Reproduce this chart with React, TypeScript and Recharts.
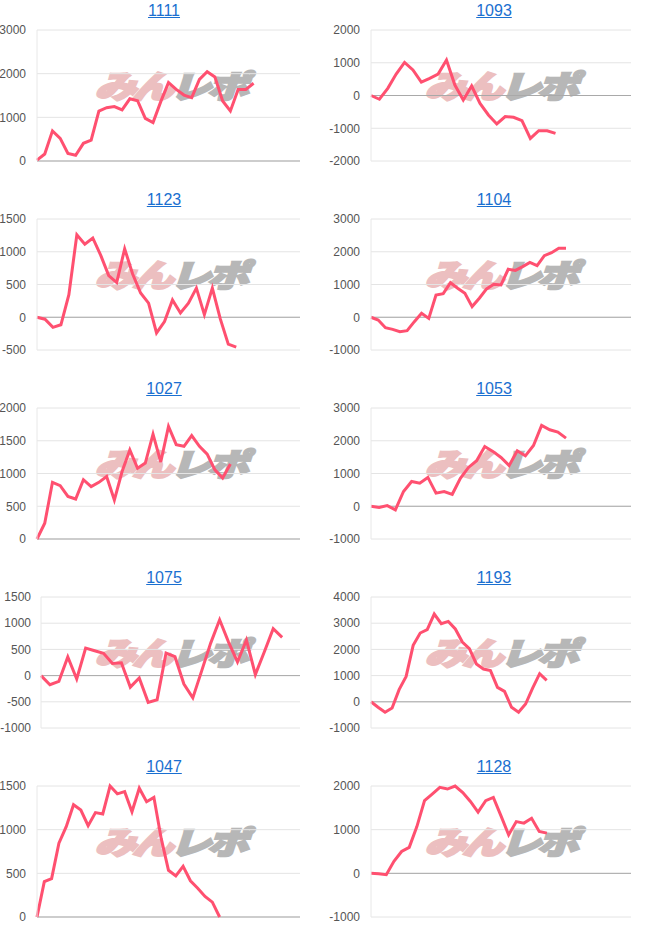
import React from "react";
import { LineChart, Line, XAxis, YAxis, CartesianGrid, ReferenceLine } from "recharts";

const lineColor = "#ff5070";
const gridColor = "#e4e4e4";
const baseColor = "#a9a9a9";
const tickColor = "#555555";
const linkColor = "#1a6fd0";
const font = "Arial, 'Liberation Sans', sans-serif";

// cumulative values per machine
const s1111 = [20, 160, 690, 520, 175, 130, 405, 480, 1145, 1220, 1245, 1170, 1425, 1380, 975, 880, 1360, 1795, 1640, 1510, 1450, 1870, 2045, 1925, 1375, 1145, 1640, 1640, 1780];
const s1093 = [0, -115, 220, 655, 1010, 780, 410, 525, 655, 1085, 320, -135, 290, -240, -595, -870, -645, -665, -770, -1310, -1075, -1075, -1155];
const s1123 = [0, -30, -155, -115, 345, 1260, 1115, 1210, 945, 635, 530, 1045, 660, 370, 215, -240, -65, 265, 65, 215, 445, 40, 445, -25, -410, -455];
const s1104 = [0, -85, -320, -370, -440, -410, -135, 120, -35, 680, 720, 1055, 885, 730, 325, 580, 865, 1005, 985, 1465, 1430, 1545, 1675, 1575, 1880, 1970, 2105, 2105];
const s1027 = [0, 240, 865, 815, 650, 610, 905, 800, 865, 955, 595, 1030, 1360, 1080, 1160, 1600, 1175, 1720, 1440, 1415, 1580, 1415, 1295, 1055, 930, 1145];
const s1053 = [0, -40, 20, -110, 450, 755, 705, 880, 400, 450, 365, 855, 1185, 1390, 1825, 1675, 1490, 1245, 1695, 1540, 1855, 2470, 2335, 2265, 2080];
const s1075 = [0, -175, -110, 355, -65, 525, 475, 425, 230, 245, -220, -45, -510, -460, 430, 360, -160, -425, 95, 620, 1065, 640, 260, 680, 20, 450, 895, 730];
const s1193 = [0, -210, -400, -235, 465, 970, 2155, 2625, 2755, 3350, 2980, 3070, 2780, 2280, 2030, 1445, 1250, 1190, 550, 400, -210, -400, -85, 525, 1075, 820];
const s1047 = [0, 405, 440, 845, 1035, 1285, 1225, 1045, 1195, 1180, 1500, 1410, 1435, 1205, 1475, 1320, 1370, 900, 535, 470, 580, 415, 330, 235, 170, 0];
const s1128 = [0, -10, -30, 275, 500, 595, 1070, 1665, 1815, 1970, 1930, 2000, 1850, 1645, 1400, 1665, 1740, 1315, 880, 1185, 1150, 1260, 960, 920];

const t1111 = [0, 1000, 2000, 3000];
const t1093 = [-2000, -1000, 0, 1000, 2000];
const t1123 = [-500, 0, 500, 1000, 1500];
const t1104 = [-1000, 0, 1000, 2000, 3000];
const t1027 = [0, 500, 1000, 1500, 2000];
const t1053 = [-1000, 0, 1000, 2000, 3000];
const t1075 = [-1000, -500, 0, 500, 1000, 1500];
const t1193 = [-1000, 0, 1000, 2000, 3000, 4000];
const t1047 = [0, 500, 1000, 1500];
const t1128 = [-1000, 0, 1000, 2000];

const titles = ["1111", "1093", "1123", "1104", "1027", "1053", "1075", "1193", "1047", "1128"];
const series = [s1111, s1093, s1123, s1104, s1027, s1053, s1075, s1193, s1047, s1128];
const tickSets = [t1111, t1093, t1123, t1104, t1027, t1053, t1075, t1193, t1047, t1128];
const xMaxes = [34, 31, 33, 36, 34, 32, 29, 37, 36, 34];

const ROW_H = 189;

function Watermark({ x, y }: { x: number; y: number }) {
  return (
    <div
      style={{
        position: "absolute",
        left: x,
        top: y,
        fontFamily: "'Noto Sans CJK JP', sans-serif",
        fontWeight: 900,
        fontSize: 33,
        lineHeight: "33px",
        whiteSpace: "nowrap",
        transform: "scale(1.25, 0.95) skewX(-14deg)",
        transformOrigin: "left top",
        letterSpacing: -3,
      }}
    >
      <span style={{ color: "#ecbfc0", WebkitTextStroke: "2.5px #ecbfc0" }}>みん</span>
      <span style={{ color: "#b7b7b7", WebkitTextStroke: "2.5px #b7b7b7" }}>レポ</span>
    </div>
  );
}

function MiniChart({ idx }: { idx: number }) {
  const col = idx % 2;
  const row = Math.floor(idx / 2);
  const top = row * ROW_H;
  const left = col === 0 ? 0 : 316;
  const axisX = col === 0 ? (idx === 6 ? 41 : 37) : 371;
  const axisW = axisX - left;
  const plotRight = col === 0 ? 300 : 631;
  const width = plotRight - left + 10;
  const ticks = tickSets[idx];
  const data = series[idx].map((v, i) => ({ x: i, v }));
  const titleCenter = col === 0 ? 164 : 494;

  return (
    <>
      <div
        style={{
          position: "absolute",
          left: titleCenter - 40,
          width: 80,
          top: top + 2,
          textAlign: "center",
          fontFamily: font,
          fontSize: 16,
          lineHeight: "18px",
          color: linkColor,
          textDecoration: "underline",
        }}
      >
        {titles[idx]}
      </div>
      <Watermark x={col === 0 ? 104 : 434} y={top + 69} />
      <div style={{ position: "absolute", left, top }}>
        <LineChart width={width} height={175} data={data} margin={{ top: 30, right: 10, bottom: 14, left: 0 }}>
          <CartesianGrid horizontal vertical={false} stroke={gridColor} />
          <XAxis dataKey="x" type="number" domain={[0, xMaxes[idx]]} hide />
          <YAxis
            width={axisW}
            domain={[ticks[0], ticks[ticks.length - 1]]}
            ticks={ticks}
            interval={0}
            tickLine={false}
            tickSize={0}
            tickMargin={idx === 6 ? 10 : 11}
            axisLine={{ stroke: "#e8e8e8" }}
            tick={{ fontSize: 12, fill: tickColor, fontFamily: font }}
          />
          <ReferenceLine y={0} stroke={baseColor} />
          <Line
            type="linear"
            dataKey="v"
            stroke={lineColor}
            strokeWidth={3}
            dot={false}
            isAnimationActive={false}
          />
        </LineChart>
      </div>
    </>
  );
}

export default function App() {
  return (
    <div style={{ position: "absolute", left: 0, top: 0, width: 660, height: 945, background: "#fff" }}>
      {titles.map((t, i) => (
        <MiniChart key={t} idx={i} />
      ))}
    </div>
  );
}
